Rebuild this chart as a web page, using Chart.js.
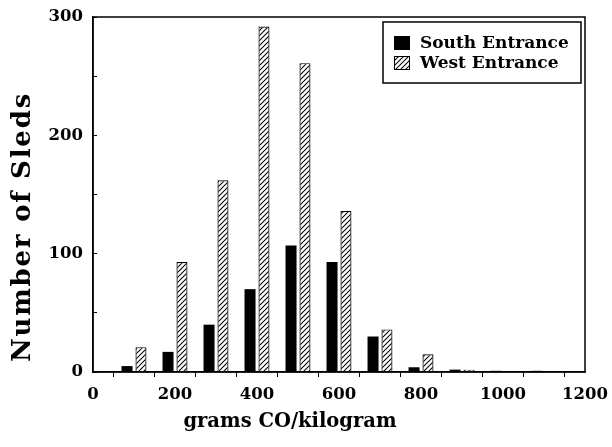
<!DOCTYPE html>
<html><head><meta charset="utf-8">
<script src="https://cdn.jsdelivr.net/npm/chart.js@4/dist/chart.umd.min.js"></script>
<style>html,body{margin:0;padding:0;background:#fff}#wrap{width:612px;height:447px;position:relative}</style>
</head><body><div id="wrap"><canvas id="c" width="612" height="447"></canvas></div>
<script>
const binCenters = [100, 200, 300, 400, 500, 600, 700, 800, 900, 1000, 1100];
const southEntrance = [5, 17, 40, 70, 107, 93, 30, 4, 2, 1, 1];
const westEntrance = [21, 93, 162, 292, 261, 136, 36, 15, 2, 0, 0];
const seriesNames = ['South Entrance', 'West Entrance'];
const xTickValues = [0, 200, 400, 600, 800, 1000, 1200];
const yTickValues = [0, 100, 200, 300];
const xTitle = 'grams CO/kilogram';
const yTitle = 'Number of Sleds';

const FONT = 'DejaVu Serif';
const canvas = document.getElementById('c');
const ctx = canvas.getContext('2d');

function makeHatch() {
  const s = 5;
  const c = document.createElement('canvas');
  c.width = s; c.height = s;
  const g = c.getContext('2d');
  g.fillStyle = '#fff'; g.fillRect(0, 0, s, s);
  g.strokeStyle = '#000'; g.lineWidth = 1.05;
  g.beginPath();
  g.moveTo(0, s); g.lineTo(s, 0);
  g.moveTo(-1, 1); g.lineTo(1, -1);
  g.moveTo(s - 1, s + 1); g.lineTo(s + 1, s - 1);
  g.stroke();
  return ctx.createPattern(c, 'repeat');
}
const hatch = makeHatch();

const framePlugin = {
  id: 'frameAndText',
  afterDraw(chart) {
    const a = chart.chartArea;
    const g = chart.ctx;
    g.save();
    g.strokeStyle = '#000';
    g.lineWidth = 1.5;
    g.strokeRect(a.left, a.top, a.right - a.left, a.bottom - a.top);
    // legend box
    const bx = a.right - 202, by = a.top + 5, bw = 198, bh = 61;
    g.strokeRect(bx, by, bw, bh);
    g.font = 'bold 17px "' + FONT + '"';
    g.textBaseline = 'middle';
    const fills = ['#000', hatch];
    for (let i = 0; i < 2; i++) {
      const cy = by + 21 + i * 20;
      g.fillStyle = fills[i];
      g.fillRect(bx + 11, cy - 7, 16, 14);
      if (i === 1) { g.lineWidth = 1; g.strokeRect(bx + 11.5, cy - 6.5, 15, 13); }
      g.fillStyle = '#000';
      g.textAlign = 'left';
      g.fillText(chart.data.datasets[i].label, bx + 37, cy + 1);
    }
    // axis titles
    g.textAlign = 'center';
    g.font = 'bold 19.5px "' + FONT + '"';
    g.fillText(xTitle, 290, 422);
    g.translate(23, 227);
    g.rotate(-Math.PI / 2);
    g.font = 'bold 26px "' + FONT + '"';
    try { g.letterSpacing = '1.8px'; } catch (e) {}
    g.fillText(yTitle, 0, 0);
    g.restore();
  }
};

new Chart(ctx, {
  type: 'bar',
  data: {
    datasets: [
      { label: seriesNames[0], data: binCenters.map((x, i) => ({ x: x, y: southEntrance[i] })),
        backgroundColor: '#000', borderColor: '#000', borderWidth: 0,
        categoryPercentage: 0.68, barPercentage: 0.79 },
      { label: seriesNames[1], data: binCenters.map((x, i) => ({ x: x, y: westEntrance[i] })),
        backgroundColor: hatch, borderColor: '#000', borderWidth: 1.2,
        categoryPercentage: 0.68, barPercentage: 0.79 }
    ]
  },
  options: {
    responsive: false, animation: false, devicePixelRatio: 1,
    layout: { padding: { left: 0, right: 27, top: 17, bottom: 0 } },
    plugins: { legend: { display: false }, tooltip: { enabled: false } },
    scales: {
      x: {
        type: 'linear', min: 0, max: 1200, offset: false,
        grid: { drawOnChartArea: false, tickLength: 5, color: '#000', lineWidth: 1 },
        border: { color: '#000', width: 1.5 },
        ticks: { stepSize: 100, autoSkip: false, maxRotation: 0, color: '#000', padding: 8,
          font: { family: FONT, weight: 'bold', size: 16.5 },
          callback: v => xTickValues.includes(v) ? String(v) : '' },
        afterFit: s => { s.height = 447 - 372; s.paddingLeft = 0; s.paddingRight = 0; }
      },
      y: {
        min: 0, max: 300,
        grid: { drawOnChartArea: false, tickLength: -4, color: '#000', lineWidth: 1 },
        border: { color: '#000', width: 1.5 },
        ticks: { stepSize: 50, autoSkip: false, color: '#000', padding: 14,
          font: { family: FONT, weight: 'bold', size: 16.5 },
          callback: v => yTickValues.includes(v) ? String(v) : '' },
        afterFit: s => { s.width = 93; s.paddingTop = 0; s.paddingBottom = 0; }
      }
    }
  },
  plugins: [framePlugin]
});
</script>
</body></html>
